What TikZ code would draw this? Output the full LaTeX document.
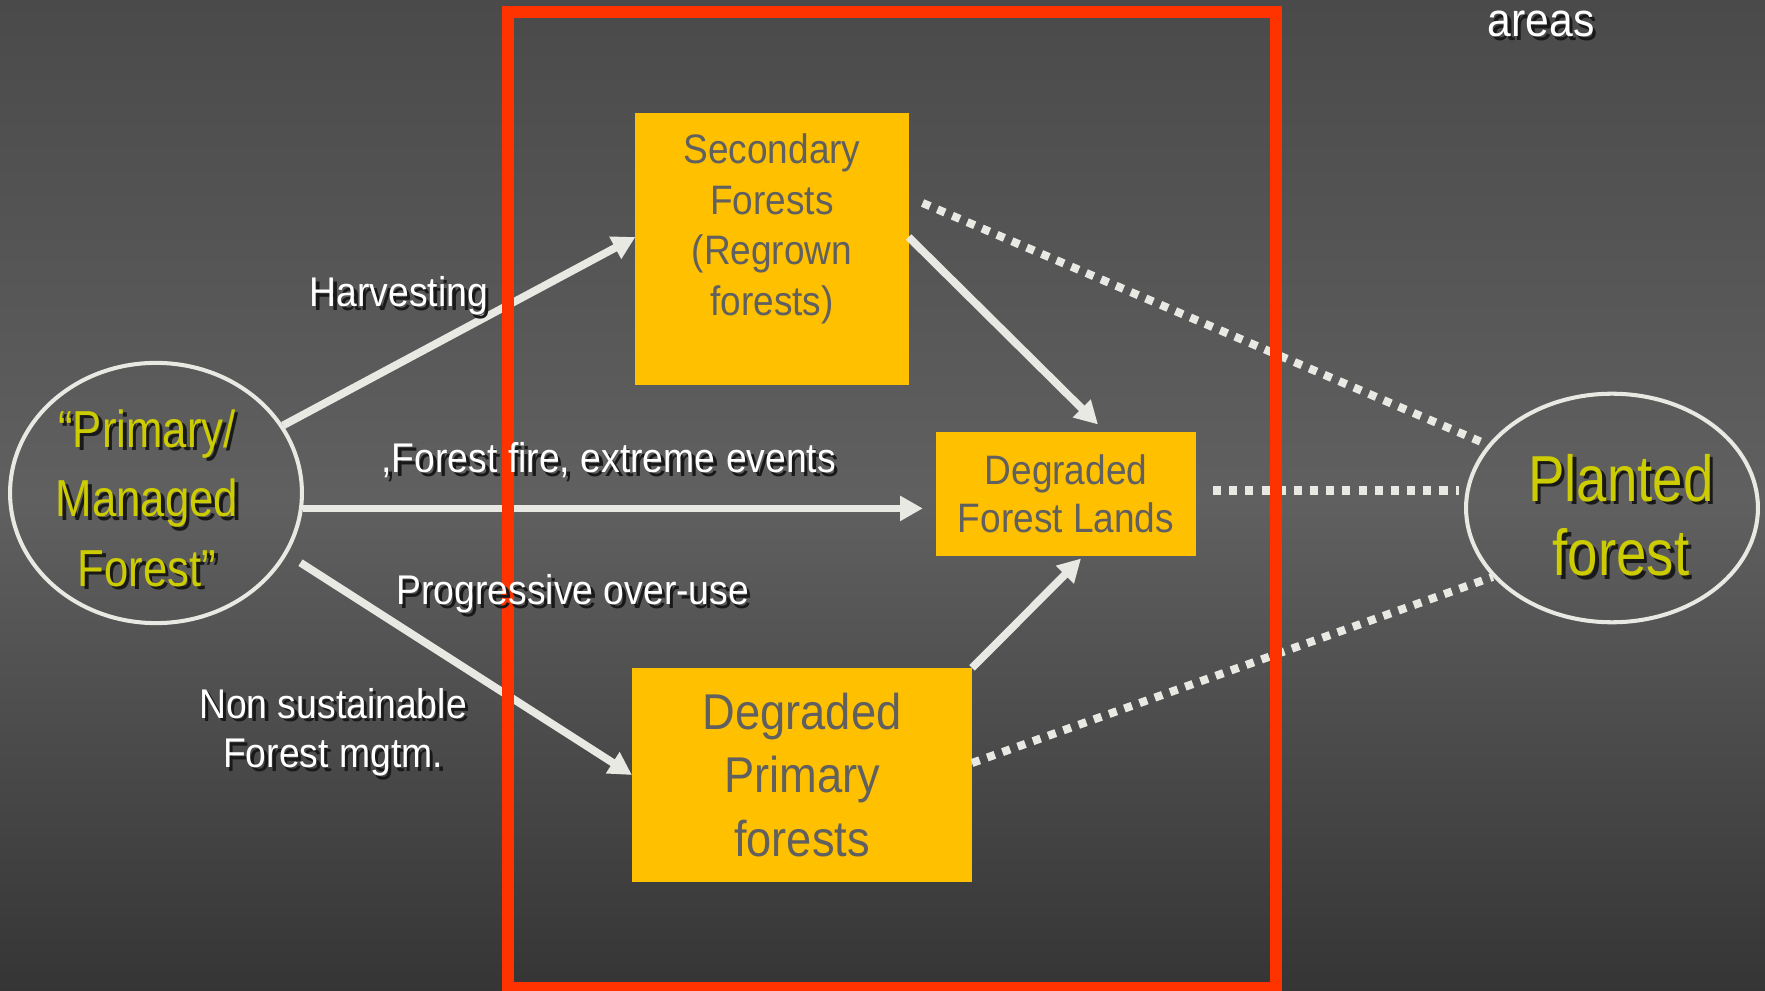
\documentclass[tikz,border=0pt]{standalone}
\usepackage{fontspec}
\setmainfont{Liberation Sans}[FakeStretch=0.9]
\newfontfamily\ovalfont{Liberation Sans}[FakeStretch=0.84]
\usetikzlibrary{arrows.meta,calc,shapes.geometric}
\definecolor{bgtop}{HTML}{4A4A4A}
\definecolor{bgmid}{HTML}{606060}
\definecolor{bgbot}{HTML}{353535}
\definecolor{boxyellow}{HTML}{FFC000}
\definecolor{boxgray}{HTML}{606060}
\definecolor{ovaltext}{HTML}{CCCC00}
\definecolor{linegray}{HTML}{E9E9E4}
\definecolor{framered}{HTML}{FF3300}
\newcommand\shd[1]{\leavevmode\rlap{\textcolor{black!90}{\kern1pt\raisebox{-1pt}{#1}}}#1}
\tikzset{
  ybox/.style={ fill=boxyellow, inner sep=0pt, outer sep=0pt },
  boxtext/.style={ text=boxgray, align=center },
  oval/.style={ ellipse, draw=linegray, line width=1.15pt, inner sep=0pt },
  ovaltxt/.style={ text=ovaltext, align=center },
  arr/.style={ draw=linegray, line width=2.2pt, -{Triangle[length=6.5pt,width=6.8pt]} },
  dots/.style={ draw=linegray, line width=2.3pt, dash pattern=on 2.3pt off 2.3pt },
  lbl/.style={ text=white, align=center, font=\fontsize{11.8}{14.2}\selectfont }
}
\begin{document}
\begin{tikzpicture}[ x=0.01cm, y=-0.01cm ]
  \useasboundingbox (0,0) rectangle (1765,991);
  \shade [ top color=bgtop, bottom color=bgmid ] (0,0) rectangle (1765,500);
  \shade [ top color=bgmid, bottom color=bgbot ] (0,499) rectangle (1765,991);
  \node [ oval, minimum width=83pt, minimum height=74pt ] (prim) at (156,493) { };
  \node [ ovaltxt, font=\ovalfont\fontsize{14.8}{19.8}\selectfont ] (primtxt) at (147,500) { \shd{“Primary/}\\\shd{Managed}\\\shd{Forest”} };
  \node [ oval, minimum width=83pt, minimum height=65pt ] (plant) at (1612,508) { };
  \node [ ovaltxt, font=\ovalfont\fontsize{18.5}{21.3}\selectfont ] (planttxt) at (1621,517) { \shd{Planted}\\\shd{forest} };
  \node [ ybox, minimum width=77.7pt, minimum height=77.4pt ] (sec) at (772,249) { };
  \node [ boxtext, font=\fontsize{11.7}{14.4}\selectfont ] (sectxt) at (772,229) { Secondary\\Forests\\(Regrown\\forests) };
  \node [ ybox, boxtext, minimum width=74pt, minimum height=35pt, font=\fontsize{11.7}{13.7}\selectfont ] (dfl) at (1066,494) { Degraded\\Forest Lands };
  \node [ ybox, boxtext, minimum width=96.7pt, minimum height=60.9pt, font=\fontsize{14.3}{18.1}\selectfont ] (dpf) at (802,775) { Degraded\\Primary\\forests };
  \draw [ arr ] (prim.28) -- (sec.175);
  \draw [ arr, shorten >=3.7pt ] (prim.-6) -- (prim.-6 -| dfl.west);
  \draw [ arr, shorten <=4.5pt ] (prim.-25) -- (dpf.west);
  \draw [ arr ] (sec.5) -- ($(dfl.north)+(32,-8)$);
  \draw [ arr ] (dpf.north east) -- ($(dfl.south)+(15,3)$);
  \draw [ dots, shorten >=2pt ] ($(sec.east)+(14,-46)$) -- (plant.153);
  \draw [ dots, shorten <=4.8pt, shorten >=1.4pt ] ([yshift=1pt]dfl.east) -- ([yshift=1pt]dfl.east -| plant.west);
  \draw [ dots ] ($(dpf.east)+(0,-12)$) -- (plant.210);
  \draw [ framered, line width=3.4pt ] (508,12) rectangle (1276,988);
  \node [ lbl, anchor=base ] (harv) at (404,307) { \shd{Harvesting} };
  \node [ lbl, anchor=base ] (fire) at (614,473) { \shd{,Forest fire, extreme events} };
  \node [ lbl, anchor=base ] (prog) at (578,605) { \shd{Progressive over-use} };
  \node [ lbl ] (nonsus) at (333,734) { \shd{Non sustainable}\\\shd{Forest mgtm.} };
  \node [ lbl, anchor=base, font=\fontsize{13.5}{16}\selectfont ] (areas) at (1547,37) { \shd{areas} };
\end{tikzpicture}
\end{document}
